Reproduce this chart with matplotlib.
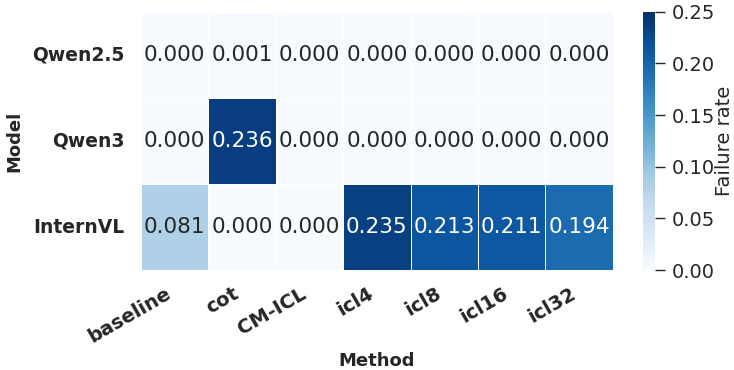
"""Failure rate heatmap by model and method"""

import matplotlib.pyplot as plt
import numpy as np
import seaborn as sns

models = ["Qwen2.5", "Qwen3", "InternVL"]
methods = ["baseline", "cot", "CM-ICL", "icl4", "icl8", "icl16", "icl32"]

qwen25 = [0.000, 0.001, 0.000, 0.000, 0.000, 0.000, 0.000]
qwen3 = [0.000, 0.236, 0.000, 0.000, 0.000, 0.000, 0.000]
internvl = [0.081, 0.000, 0.000, 0.235, 0.213, 0.211, 0.194]

data = np.array([qwen25, qwen3, internvl])

sns.set_theme(style="white")
plt.rcParams["font.family"] = ["DejaVu Sans"]

fig = plt.figure(figsize=(7.34, 3.7), dpi=100)
ax = fig.add_axes([0.192, 0.270, 0.643, 0.698])
cax = fig.add_axes([0.876, 0.270, 0.017, 0.698])

sns.heatmap(
    data,
    ax=ax,
    cbar_ax=cax,
    cmap="Blues",
    vmin=0,
    vmax=0.25,
    annot=True,
    fmt=".3f",
    annot_kws={"fontsize": 15.5},
    linewidths=0.6,
    linecolor="white",
    xticklabels=methods,
    yticklabels=models,
)

ax.set_xticklabels(methods, rotation=30, ha="right", fontsize=14, fontweight="bold")
ax.set_yticklabels(models, rotation=0, fontsize=13.5, fontweight="bold")
ax.tick_params(axis="y", length=0, pad=12)
ax.tick_params(axis="x", length=0, pad=10)
ax.set_xlabel("Method", fontsize=13, fontweight="bold", labelpad=4)
ax.set_ylabel("Model", fontsize=13, fontweight="bold", labelpad=6)

cax.tick_params(labelsize=14, length=7.5, width=1, pad=4, left=False, right=True)
cax.set_yticks([0.0, 0.05, 0.10, 0.15, 0.20, 0.25])
cax.set_yticklabels(["0.00", "0.05", "0.10", "0.15", "0.20", "0.25"])
cax.set_ylabel("Failure rate", fontsize=14, labelpad=0)

fig.savefig("out.png", dpi=100)
